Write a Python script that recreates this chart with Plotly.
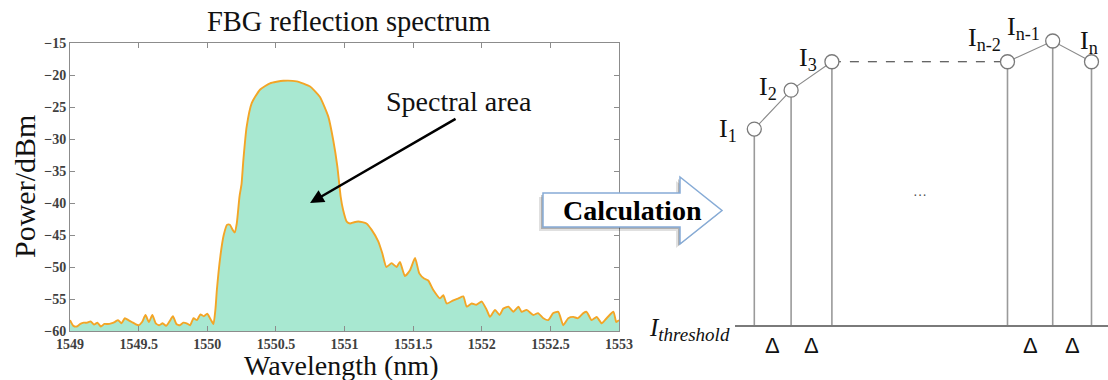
import plotly.graph_objects as go

W, H = 1108, 380

# ---------------- data: FBG reflection spectrum ----------------
WAVELENGTH = [
    1549.000, 1549.025, 1549.050, 1549.075, 1549.100, 1549.125, 1549.150, 1549.175,
    1549.200, 1549.225, 1549.250, 1549.275, 1549.300, 1549.325, 1549.350, 1549.375,
    1549.400, 1549.425, 1549.450, 1549.475, 1549.500, 1549.525, 1549.550, 1549.575,
    1549.600, 1549.625, 1549.650, 1549.675, 1549.700, 1549.725, 1549.750, 1549.775,
    1549.800, 1549.825, 1549.850, 1549.875, 1549.900, 1549.925, 1549.950, 1549.975,
    1550.000, 1550.025, 1550.045, 1550.060, 1550.070, 1550.095, 1550.120, 1550.145,
    1550.165, 1550.185, 1550.200, 1550.215, 1550.235, 1550.250, 1550.263, 1550.287,
    1550.324, 1550.384, 1550.457, 1550.554, 1550.652, 1550.749, 1550.820, 1550.882,
    1550.918, 1550.948, 1550.972, 1550.990, 1551.016, 1551.040, 1551.070, 1551.100,
    1551.130, 1551.160, 1551.198, 1551.246, 1551.276, 1551.305, 1551.343, 1551.380,
    1551.404, 1551.440, 1551.477, 1551.514, 1551.545, 1551.580, 1551.610, 1551.647,
    1551.696, 1551.720, 1551.745, 1551.793, 1551.830, 1551.866, 1551.890, 1551.927,
    1551.960, 1552.000, 1552.036, 1552.060, 1552.097, 1552.130, 1552.157, 1552.194,
    1552.230, 1552.267, 1552.290, 1552.327, 1552.376, 1552.410, 1552.449, 1552.485,
    1552.521, 1552.558, 1552.594, 1552.630, 1552.667, 1552.700, 1552.740, 1552.764,
    1552.800, 1552.837, 1552.874, 1552.910, 1552.960, 1552.980, 1553.000,
]
POWER = [
    -58.3, -59.2, -59.3, -58.9, -58.7, -58.7, -58.5, -59.0,
    -58.7, -59.3, -58.9, -58.9, -58.8, -58.6, -58.3, -58.8,
    -58.0, -58.3, -58.6, -58.9, -59.1, -58.6, -57.5, -58.6,
    -57.5, -58.8, -59.1, -58.8, -59.2, -58.5, -57.7, -58.9,
    -59.1, -58.7, -58.8, -59.1, -58.0, -58.3, -57.4, -57.7,
    -57.3, -58.2, -58.9, -56.5, -53.6, -48.4, -45.0, -43.4,
    -43.4, -44.2, -44.6, -43.2, -39.0, -37.0, -33.3, -28.1,
    -24.4, -22.3, -21.3, -20.9, -21.0, -21.8, -23.4, -26.5,
    -30.2, -34.3, -39.0, -41.1, -42.9, -43.2, -43.0, -42.9,
    -43.0, -43.2, -44.2, -46.0, -47.9, -50.0, -49.4, -50.0,
    -49.2, -51.4, -50.5, -48.6, -51.0, -51.8, -52.1, -53.6,
    -54.9, -54.4, -55.7, -55.2, -54.9, -54.6, -56.2, -55.7,
    -55.9, -55.4, -56.7, -57.8, -56.7, -57.5, -56.5, -56.2,
    -57.0, -56.2, -57.0, -56.7, -57.5, -57.2, -58.0, -58.3,
    -57.2, -57.0, -59.1, -58.0, -57.8, -58.0, -57.2, -57.0,
    -58.3, -57.8, -58.8, -58.0, -57.0, -58.6, -58.3,
]
X_TICKS = [1549, 1549.5, 1550, 1550.5, 1551, 1551.5, 1552, 1552.5, 1553]
X_TICK_TEXT = ["1549", "1549.5", "1550", "1550.5", "1551", "1551.5", "1552", "1552.5", "1553"]
Y_TICKS = [-60, -55, -50, -45, -40, -35, -30, -25, -20, -15]
Y_MIN, Y_MAX = -60, -15
X_MIN, X_MAX = 1549, 1553

# ---------------- data: calculation diagram ----------------
SAMPLE_POS = [1, 1.92, 2.94, 7.33, 8.46, 9.43]
INTENSITY = [6.9, 8.27, 9.27, 9.27, 10.0, 9.27]
SAMPLE_LABELS = ["I<sub>1</sub>", "I<sub>2</sub>", "I<sub>3</sub>",
                 "I<sub>n-2</sub>", "I<sub>n-1</sub>", "I<sub>n</sub>"]
DELTA = "Δ"
THRESHOLD_LABEL = "<i>I<sub><span style='font-size:19px'>threshold</span></sub></i>"

# style: label offsets (pixels)
LABEL_SHIFT = [(-26, -1), (-23, 2), (-24, 3), (-23, 23), (-29, 13), (-3, 20)]

SERIF = "Liberation Serif, Times New Roman, serif"
SANS = "Liberation Sans, Arial, sans-serif"


def px(x):
    return x / W


def py(y):
    return 1 - y / H


def paper_text(text, x, y, size, family=SERIF, color="#111", **kw):
    d = dict(text=text, x=px(x), y=py(y), xref="paper", yref="paper", showarrow=False,
             xanchor="center", yanchor="middle", font=dict(family=family, size=size, color=color))
    d.update(kw)
    return d


fig = go.Figure()

# spectrum fill baseline
fig.add_trace(go.Scatter(x=WAVELENGTH, y=[Y_MIN] * len(WAVELENGTH), mode="lines",
                         line=dict(width=0, color="rgba(0,0,0,0)"), hoverinfo="skip",
                         showlegend=False))
fig.add_trace(go.Scatter(x=WAVELENGTH, y=POWER, mode="lines", fill="tonexty",
                         fillcolor="#A8E8D1",
                         line=dict(color="#F3A526", width=1.9, shape="spline", smoothing=0.5),
                         showlegend=False))

# diagram: vertical lines
for p, v in zip(SAMPLE_POS, INTENSITY):
    fig.add_trace(go.Scatter(x=[p, p], y=[0, v], mode="lines", xaxis="x2", yaxis="y2",
                             line=dict(color="#9a9a9a", width=1.6), showlegend=False,
                             hoverinfo="skip"))
# connecting lines
fig.add_trace(go.Scatter(x=SAMPLE_POS[0:3], y=INTENSITY[0:3], mode="lines", xaxis="x2", yaxis="y2",
                         line=dict(color="#8a8a8a", width=1.1), showlegend=False))
fig.add_trace(go.Scatter(x=SAMPLE_POS[2:4], y=INTENSITY[2:4], mode="lines", xaxis="x2", yaxis="y2",
                         line=dict(color="#333333", width=1.2, dash="dash"), showlegend=False))
fig.add_trace(go.Scatter(x=SAMPLE_POS[3:6], y=INTENSITY[3:6], mode="lines", xaxis="x2", yaxis="y2",
                         line=dict(color="#8a8a8a", width=1.1), showlegend=False))
fig.add_trace(go.Scatter(x=SAMPLE_POS, y=INTENSITY, mode="markers", xaxis="x2", yaxis="y2",
                         marker=dict(symbol="circle", size=14, color="white",
                                     line=dict(color="#7a7a7a", width=1.3)),
                         showlegend=False))

annotations = [
    paper_text("FBG reflection spectrum", 348, 22, 28.5),
    paper_text("Power/dBm", 24, 187, 30, textangle=-90),
    paper_text("Wavelength (nm)", 341, 365, 28),
    paper_text("Spectral area", 459, 101, 28),
    paper_text("<b>Calculation</b>", 632, 211, 28, color="#000"),
    paper_text(THRESHOLD_LABEL, 732, 329, 25, xanchor="right"),
]
# arrow to spectral area
annotations.append(dict(text="", x=1550.749, y=-40, xref="x", yref="y", ax=147, ay=-85,
                        axref="pixel", ayref="pixel", showarrow=True, arrowhead=2, arrowsize=1.1,
                        arrowwidth=2.5, arrowcolor="black", standoff=0))
# diagram labels
for p, v, lab, (dx, dy) in zip(SAMPLE_POS, INTENSITY, SAMPLE_LABELS, LABEL_SHIFT):
    annotations.append(dict(text=lab, x=p, y=v, xref="x2", yref="y2", xshift=dx, yshift=dy,
                            xanchor="center", yanchor="middle",
                            showarrow=False, font=dict(family=SERIF, size=26, color="#111")))
for a, b in [(0, 1), (1, 2), (3, 4), (4, 5)]:
    annotations.append(dict(text=DELTA, x=(SAMPLE_POS[a] + SAMPLE_POS[b]) / 2, y=0, xref="x2", yref="y2",
                            yshift=-20, xanchor="center", yanchor="middle",
                            showarrow=False, font=dict(family=SANS, size=22, color="#111")))
annotations.append(dict(text="···", x=(SAMPLE_POS[2] + SAMPLE_POS[3]) / 2, y=4.61, xref="x2", yref="y2",
                        xanchor="center", yanchor="middle",
                        showarrow=False, font=dict(family=SANS, size=14, color="#555")))


def arrow_path(ox, oy):
    pts = [(543, 193), (680, 193), (680, 177), (722, 210.5), (680, 244), (680, 227), (543, 227)]
    s = "M " + " L ".join(f"{px(x + ox):.5f},{py(y + oy):.5f}" for x, y in pts) + " Z"
    return s


shapes = [
    dict(type="path", path=arrow_path(-4, 4), xref="paper", yref="paper",
         fillcolor="rgba(0,0,0,0.12)", line=dict(width=0), layer="above"),
    dict(type="path", path=arrow_path(-2, 2), xref="paper", yref="paper",
         fillcolor="rgba(0,0,0,0.22)", line=dict(width=0), layer="above"),
    dict(type="path", path=arrow_path(0, 0), xref="paper", yref="paper",
         fillcolor="white", line=dict(color="#86ABD6", width=1.5), layer="above"),
]

axis_common = dict(showline=True, linecolor="#8c8c8c", linewidth=1, mirror="ticks", ticks="inside",
                   ticklen=5, tickcolor="#8c8c8c", showgrid=False, zeroline=False, automargin=False,
                   tickfont=dict(family=SERIF, size=14, color="#404040", weight="bold"))

fig.update_layout(
    width=W, height=H, margin=dict(l=0, r=0, t=0, b=0, pad=0), autosize=False,
    paper_bgcolor="white", plot_bgcolor="white", showlegend=False,
    xaxis=dict(domain=[px(70), px(619)], range=[X_MIN, X_MAX], tickvals=X_TICKS,
               ticktext=X_TICK_TEXT, anchor="y", **axis_common),
    yaxis=dict(domain=[py(331), py(43)], range=[Y_MIN, Y_MAX], tickvals=Y_TICKS,
               anchor="x", **axis_common),
    xaxis2=dict(domain=[px(735), 1], range=[0.5175, 9.8425], anchor="y2", showline=True,
                linecolor="#7a7a7a", linewidth=1.5, showgrid=False, zeroline=False,
                showticklabels=False, ticks="", automargin=False),
    yaxis2=dict(domain=[py(325), 1], range=[0, 11.444], anchor="x2", visible=False,
                showgrid=False, zeroline=False, automargin=False),
    annotations=annotations,
    shapes=shapes,
)

fig.write_html("out.html")
